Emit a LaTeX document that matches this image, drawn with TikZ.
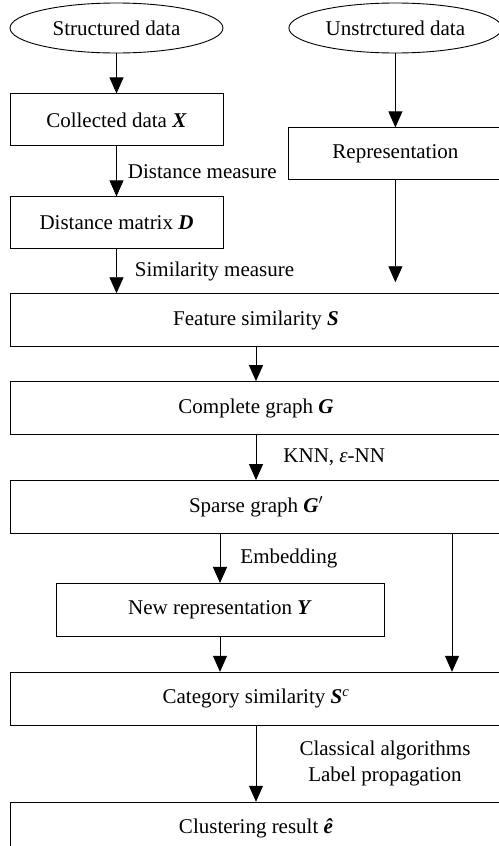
\documentclass[tikz,border=0pt]{standalone}
\usepackage{fontspec}
\setmainfont{Liberation Serif}
\usetikzlibrary{positioning}
\usetikzlibrary{arrows.meta}
\usetikzlibrary{shapes.geometric}
\newcommand{\bisym}[1]{\textbf{\textit{#1}}}
\tikzset{node distance=40pt, % Default gap between two nodes.
every node/.style={ % Text looks the same everywhere
font=\fontsize{21}{26}\selectfont},
data/.style={ % Input data sets
ellipse, draw, line width=0.9pt,
minimum width=213pt, minimum height=50pt, inner sep=0pt},
box/.style={ % Processing steps
rectangle, draw, line width=0.9pt,
minimum width=213pt, minimum height=52pt, inner sep=0pt},
wide/.style={ % Steps that span the whole figure
box, minimum width=492pt, minimum height=53pt},
lbl/.style={ % Text beside an arrow
anchor=west, inner sep=0pt},
every path/.style={line width=0.9pt},
>={Triangle[length=16pt,width=14pt]} % Solid triangle heads
}

\begin{document}
\begin{tikzpicture}
    \useasboundingbox (0pt,0pt) rectangle (498pt,-846pt);
    \node[data] (sd) at (116.5pt,-28pt) {Structured data};
    \node[data, right=65pt of sd] (ud) {Unstrctured data};
    \node[box, below=40pt of sd] (cx) {Collected data \bisym{X}};
    \node[box, below=50pt of cx] (dm) {Distance matrix \bisym{D}};
    \node[box, below=74pt of ud] (rep) {Representation};
    \node[wide, below=44pt of dm.south west, anchor=north west] (fs) {Feature similarity \bisym{S}};
    \node[wide, below=34pt of fs] (cg) {Complete graph \bisym{G}};
    \node[wide, below=45pt of cg] (sg) {Sparse graph \bisym{G}$'$};
    \node[box, minimum width=328pt, minimum height=53pt, below=49pt of sg, xshift=-36pt] (nr) {New representation \bisym{Y}};
    \node[wide, below=35pt of nr, xshift=36pt] (cs) {Category similarity \bisym{S}\textsuperscript{\textit{c}}};
    \node[wide, below=76pt of cs] (cr) {Clustering result \bisym{ê}};
    \draw[->] (sd) -- (cx);
    \draw[->] (cx) -- node[lbl, xshift=11pt] {Distance measure} (dm);
    \draw[->] (dm) -- node[lbl, xshift=18pt] {Similarity measure} (dm.south |- fs.north);
    \draw[->] (ud) -- (rep);
    \draw[->, shorten >=11pt] (rep) -- (rep.south |- fs.north);
    \draw[->] (fs) -- (cg);
    \draw[->] (cg) -- node[lbl, xshift=27pt] {KNN, \textit{ε}-NN} (sg);
    \draw[->] (sg.south -| nr.north) -- node[lbl, xshift=20pt] {Embedding} (nr);
    \draw[->] (nr) -- (nr.south |- cs.north);
    \draw[->] ([xshift=196pt]sg.south) -- ([xshift=196pt]sg.south |- cs.north);
    \draw[->] (cs) -- node[lbl, anchor=center, xshift=129pt, align=center] {Classical algorithms\\Label propagation} (cr);
\end{tikzpicture}
\end{document}
